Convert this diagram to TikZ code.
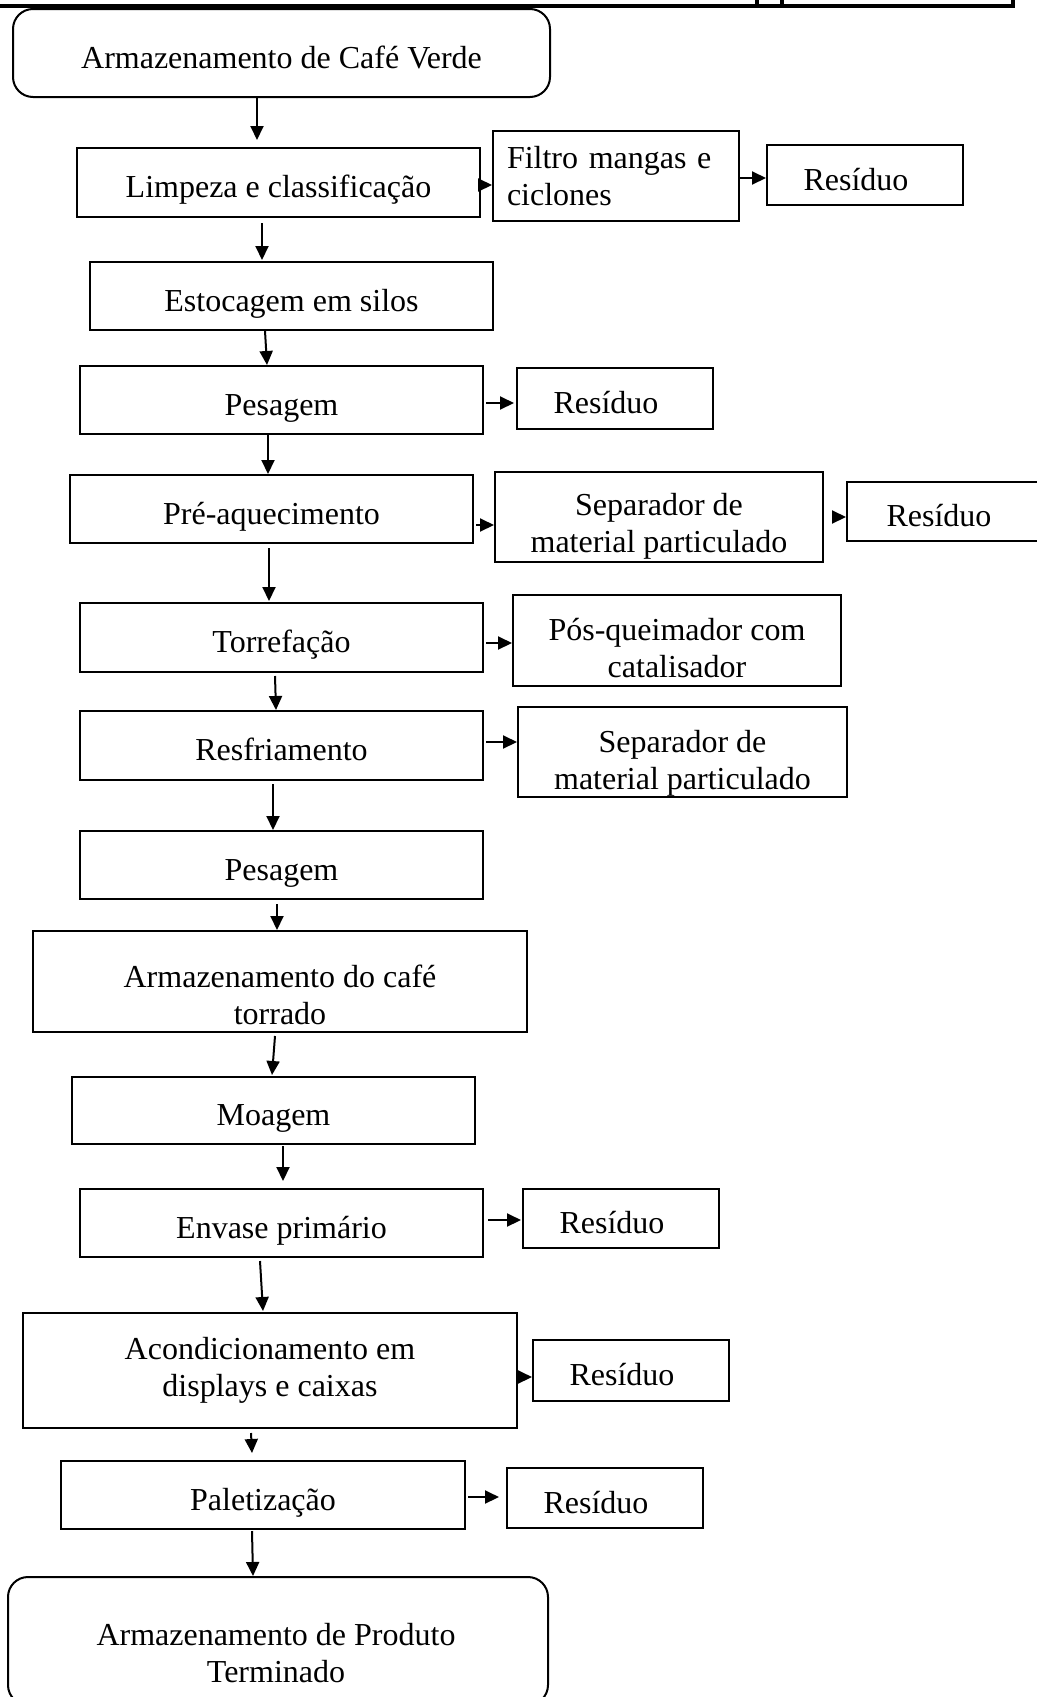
\documentclass[tikz,border=0pt]{standalone}
\usepackage{fontspec}
\setmainfont{Liberation Serif}
\usetikzlibrary{arrows.meta,calc}
\newcommand\fsz{\fontsize{16}{18.5}\selectfont}
\begin{document}
\begin{tikzpicture}[x=0.5pt,y=-0.5pt,
  box/.style={draw, line width=1pt, inner sep=0pt, align=center, font=\fsz},
  one/.style={box, text height=19pt, text depth=4pt},
  two/.style={box, text depth=4pt},
  res/.style={draw, line width=1pt, inner sep=0pt, font=\fsz, minimum width=98pt, text height=19pt, text depth=4pt},
  rbox/.style={box, rounded corners=10pt},
  arr/.style={line width=1pt, -{Triangle[length=7pt,width=6.5pt]}}]
\useasboundingbox (0,0) rectangle (1037,1697);
% top frame remnant
\draw[line width=2pt] (0,5.5) -- (1015,5.5);
\draw[line width=2pt] (757,-2) -- (757,5.5) (782,-2) -- (782,5.5) (1013,-2) -- (1013,6.5);
% main column
\node[rbox, text height=19pt, text depth=4pt, minimum width=268.5pt, minimum height=44pt] (A0) at (281.5,53) {Armazenamento de Café Verde};
\node[one, minimum width=201.5pt, minimum height=34.5pt] (L) at (278.5,182.5) {Limpeza e classificação};
\node[box, minimum width=123pt, minimum height=45pt, align=left, text width=109pt, inner xsep=7pt] (F) at (616,176) {Filtro mangas e\\ciclones};
\node[res, minimum height=30pt] (R1) at (865,175) {Resíduo\hspace*{9pt}};
\node[one, minimum width=201.5pt, minimum height=34pt] (E) at (291.5,296) {Estocagem em silos};
\node[one, minimum width=201.5pt, minimum height=34pt] (P1) at (281.5,400) {Pesagem};
\node[res, minimum height=30.5pt] (R2) at (615,398.5) {Resíduo\hspace*{9pt}};
\node[one, minimum width=201.5pt, minimum height=34pt] (PA) at (271.5,509) {Pré-aquecimento};
\node[two, text height=39.5pt, minimum width=164pt, minimum height=45pt] (S1) at (659,517) {Separador de\\material particulado};
\node[res, minimum width=101pt, minimum height=29.5pt] (R3) at (948,511.5) {Resíduo\hspace*{9pt}};
\node[one, minimum width=201.5pt, minimum height=34.5pt] (T) at (281.5,637.5) {Torrefação};
\node[two, text height=40.5pt, minimum width=164pt, minimum height=45.5pt] (PQ) at (677,640.5) {Pós-queimador com\\catalisador};
\node[one, minimum width=201.5pt, minimum height=34.5pt] (RF) at (281.5,745.5) {Resfriamento};
\node[two, text height=41.4pt, minimum width=164.5pt, minimum height=45pt] (S2) at (682.5,752) {Separador de\\material particulado};
\node[one, minimum width=201.5pt, minimum height=34pt] (P2) at (281.5,865) {Pesagem};
\node[two, text height=46.5pt, minimum width=247pt, minimum height=49.5pt] (AT) at (280,981.5) {Armazenamento do café\\torrado};
\node[one, minimum width=201.5pt, minimum height=33.5pt] (M) at (273.5,1110.5) {Moagem};
\node[one, minimum width=201.5pt, minimum height=34pt] (EN) at (281.5,1223) {Envase primário};
\node[res, minimum height=29.5pt] (R4) at (621,1218.5) {Resíduo\hspace*{9pt}};
\node[box, minimum width=247pt, minimum height=57.5pt] (AC) at (270,1370.5) {Acondicionamento em\\displays e caixas};
\node[res, minimum height=30.5pt] (R5) at (631,1370.5) {Resíduo\hspace*{9pt}};
\node[one, minimum width=202pt, minimum height=34pt] (PL) at (263,1495) {Paletização};
\node[res, minimum height=30pt] (R6) at (605,1498) {Resíduo\hspace*{9pt}};
\node[rbox, minimum width=270pt, minimum height=64pt] (AP) at (278,1641) {};
\node[align=center, font=\fsz, inner sep=0pt] (APtext) at ($(AP.center)+(-2,12)$) {Armazenamento de Produto\\Terminado};
% vertical connectors
\draw[arr] ($(A0.south)+(-24.5,0)$) -- ($(L.north)+(-21.5,-7)$);
\draw[arr] ($(L.south)+(-16.5,5)$) -- ($(E.north)+(-29.5,-1)$);
\draw[arr] ($(E.south)+(-26.5,0)$) -- ($(P1.north)+(-14.5,0)$);
\draw[arr] ($(P1.south)+(-13.5,0)$) -- ($(PA.north)+(-3.5,0)$);
\draw[arr] ($(PA.south)+(-2.5,4)$) -- ($(T.north)+(-12.5,-1)$);
\draw[arr] ($(T.south)+(-6.5,3)$) -- ($(RF.north)+(-5.5,0)$);
\draw[arr] ($(RF.south)+(-8.5,3)$) -- ($(P2.north)+(-8.5,0)$);
\draw[arr] ($(P2.south)+(-4.5,4)$) -- ($(AT.north)+(-3,0)$);
\draw[arr] ($(AT.south)+(-5,3)$) -- ($(M.north)+(-1.5,-1)$);
\draw[arr] ($(M.south)+(9.5,1)$) -- ($(EN.north)+(1.5,-7)$);
\draw[arr] ($(EN.south)+(-21.5,3)$) -- ($(AC.north)+(-7,-1)$);
\draw[arr] ($(AC.south)+(-19,4)$) -- ($(PL.north)+(-11,-7)$);
\draw[arr] ($(PL.south)+(-11,1)$) -- ($(AP.north)+(-25,0)$);
% horizontal connectors
\draw[arr] ($(L.east)+(0,2.5)$) -- ($(F.west)+(0,9)$);
\draw[arr] ($(F.east)+(0,2)$) -- ($(R1.west)+(0,3)$);
\draw[arr] ($(P1.east)+(2,3)$) -- ($(R2.west)+(-2,4.5)$);
\draw[arr] ($(PA.east)+(2,16)$) -- ($(S1.west)+(0,8)$);
\draw[arr] ($(S1.east)+(8,0)$) -- ($(R3.west)+(0,5.5)$);
\draw[arr] ($(T.east)+(2,5.5)$) -- ($(PQ.west)+(0,2.5)$);
\draw[arr] ($(RF.east)+(2,-3.5)$) -- ($(S2.west)+(0,-10)$);
\draw[arr] ($(EN.east)+(4,-3)$) -- ($(R4.west)+(-1,1.5)$);
\draw[arr] ($(AC.east)+(2,6.5)$) -- ($(R5.west)+(0,6.5)$);
\draw[arr] ($(PL.east)+(2,2)$) -- ($(R6.west)+(-7,-1)$);
\end{tikzpicture}
\end{document}
